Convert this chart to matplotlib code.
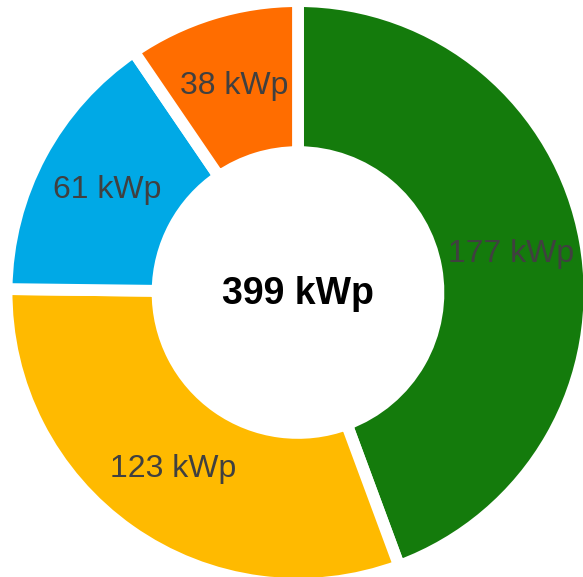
import matplotlib
matplotlib.use("Agg")
import matplotlib.pyplot as plt

labels = ["Green", "Yellow", "Blue", "Orange"]
values = [177, 123, 61, 38]
colors = ["#147B0C", "#FFBA00", "#00A9E6", "#FF6D00"]
unit = "kWp"
total = sum(values)

plt.rcParams['font.family'] = ['Liberation Sans', 'DejaVu Sans']

fig = plt.figure(figsize=(5.83, 5.77), dpi=100)
ax = fig.add_axes([0, 0, 1, 1])

def fmt(p):
    return f"{round(p * total / 100)} {unit}"

wedges, texts, autotexts = ax.pie(
    values, colors=colors, startangle=90, counterclock=False,
    radius=1.019, autopct=fmt, pctdistance=0.742,
    wedgeprops=dict(width=0.528, edgecolor="white", linewidth=8.5),
    textprops=dict(color="#404040", fontsize=23),
)
ax.text(0, -0.005, f"{total} {unit}", ha="center", va="center",
        fontsize=27, fontweight="bold", color="black")

ax.set_xlim(-298 / 286, (583 - 298) / 286)
ax.set_ylim(-(577 - 292.5) / 286, 292.5 / 286)
ax.set_aspect("auto")
ax.axis("off")
fig.savefig("out.png", dpi=100)
